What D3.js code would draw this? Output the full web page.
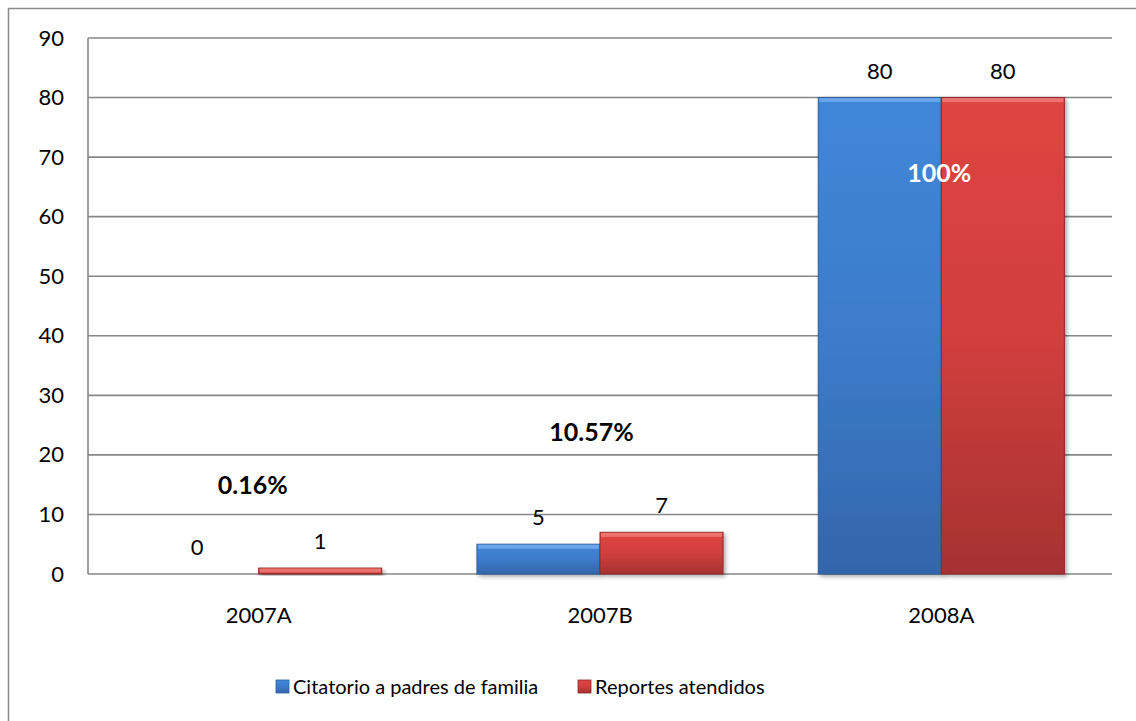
<!DOCTYPE html>
<html>
<head>
<meta charset="utf-8">
<script src="https://cdn.jsdelivr.net/npm/d3@7"></script>
<style>
  body { margin: 0; background: #fff; }
  text { font-family: Lato, "Open Sans", sans-serif; fill: #000; }
</style>
</head>
<body>
<div id="chart"></div>
<script>
// data
var categories = ["2007A", "2007B", "2008A"];
var seriesNames = ["Citatorio a padres de familia", "Reportes atendidos"];
var citatorio = [0, 5, 80];
var reportes = [1, 7, 80];
var percentLabels = ["0.16%", "10.57%", "100%"];
var percentAt = [13.5, 22.3, 65.8];   // value where the % label baseline sits
var percentShift = [-6, -8.5, -2];
var yTicks = [0, 10, 20, 30, 40, 50, 60, 70, 80, 90];

var W = 1136, H = 721;
var margin = { top: 38, right: 24, bottom: 147, left: 88 },
    width = W - margin.left - margin.right,
    height = H - margin.top - margin.bottom;

var svg = d3.select("#chart").append("svg")
    .attr("width", W).attr("height", H);

// outer frame (runs off the right/bottom edge)
svg.append("rect")
    .attr("x", 8.5).attr("y", 8.5)
    .attr("width", 1200).attr("height", 800)
    .attr("fill", "none").attr("stroke", "#8a8a8a").attr("stroke-width", 1.5);

var defs = svg.append("defs");
function grad(id, c1, c2, c3) {
    var g = defs.append("linearGradient").attr("id", id)
        .attr("x1", 0).attr("y1", 0).attr("x2", 0).attr("y2", 1);
    g.append("stop").attr("offset", "0%").attr("stop-color", c1);
    g.append("stop").attr("offset", "50%").attr("stop-color", c2);
    g.append("stop").attr("offset", "100%").attr("stop-color", c3);
}
grad("gBlue", "#4187d8", "#3c7ccb", "#3366aa");
grad("gRed", "#de4542", "#d13f3d", "#a53230");
var shadow = defs.append("filter").attr("id", "sh")
    .attr("x", "-10%").attr("y", "-10%").attr("width", "130%").attr("height", "130%");
shadow.append("feGaussianBlur").attr("in", "SourceAlpha").attr("stdDeviation", 2);
shadow.append("feOffset").attr("dx", 2).attr("dy", 2).attr("result", "b");
shadow.append("feComponentTransfer").append("feFuncA").attr("type", "linear").attr("slope", 0.35);
var fm = shadow.append("feMerge");
fm.append("feMergeNode");
fm.append("feMergeNode").attr("in", "SourceGraphic");

var g = svg.append("g")
    .attr("transform", "translate(" + margin.left + "," + margin.top + ")");

var x0 = d3.scaleBand().domain(categories).range([0, width])
    .paddingInner(0.279).paddingOuter(0.1395);
var x1 = d3.scaleBand().domain([0, 1]).range([0, x0.bandwidth()]);
var y = d3.scaleLinear().domain([0, 90]).range([height, 0]);

// gridlines
g.append("g").selectAll("line").data(yTicks).enter().append("line")
    .attr("x1", 0).attr("x2", width)
    .attr("y1", function(d) { return y(d); }).attr("y2", function(d) { return y(d); })
    .attr("stroke", "#878787").attr("stroke-width", 1.6);
g.append("line").attr("x1", 0).attr("x2", 0).attr("y1", 0).attr("y2", height)
    .attr("stroke", "#878787").attr("stroke-width", 1.6);

// y axis labels
var yAxis = g.append("g").call(d3.axisLeft(y).tickValues(yTicks).tickSize(0).tickPadding(24));
yAxis.select(".domain").remove();
yAxis.selectAll("text").style("font-size", "22px").attr("fill", "#000")
    .style("font-family", "Lato, sans-serif");

// x axis labels
var xAxis = g.append("g").attr("transform", "translate(0," + height + ")")
    .call(d3.axisBottom(x0).tickSize(0).tickPadding(33));
xAxis.select(".domain").remove();
xAxis.selectAll("text").style("font-size", "22px").attr("fill", "#000")
    .style("font-family", "Lato, sans-serif");

var rows = categories.map(function(c, i) {
    return { cat: c, vals: [citatorio[i], reportes[i]] };
});
var fills = ["url(#gBlue)", "url(#gRed)"];
var edge = ["#2d5e9c", "#8f2a28"];
var hi = ["#6aa6ec", "#ee7370"];

var grp = g.selectAll(".grp").data(rows).enter().append("g")
    .attr("transform", function(d) { return "translate(" + x0(d.cat) + ",0)"; });

var bars = grp.selectAll(".bar").data(function(d) {
    return d.vals.map(function(v, k) { return { k: k, v: v }; });
}).enter().filter(function(d) { return d.v > 0; }).append("g").attr("filter", "url(#sh)");

bars.append("rect")
    .attr("x", function(d) { return x1(d.k); })
    .attr("y", function(d) { return y(d.v); })
    .attr("width", x1.bandwidth())
    .attr("height", function(d) { return y(0) - y(d.v); })
    .attr("fill", function(d) { return fills[d.k]; })
    .attr("stroke", function(d) { return edge[d.k]; }).attr("stroke-width", 1);
// top bevel highlight
bars.append("rect")
    .attr("x", function(d) { return x1(d.k) + 1; })
    .attr("y", function(d) { return y(d.v) + 0.5; })
    .attr("width", x1.bandwidth() - 2)
    .attr("height", function(d) { return Math.min(4, y(0) - y(d.v) - 1); })
    .attr("fill", function(d) { return hi[d.k]; });

// value labels
grp.selectAll(".val").data(function(d) {
    return d.vals.map(function(v, k) { return { k: k, v: v }; });
}).enter().append("text")
    .attr("x", function(d) { return x1(d.k) + x1.bandwidth() / 2; })
    .attr("y", function(d) { return y(d.v) - 19; })
    .attr("text-anchor", "middle")
    .style("font-size", "22px")
    .text(function(d) { return d.v; });

// percentage labels
g.selectAll(".pct").data(percentLabels).enter().append("text")
    .attr("x", function(d, i) { return x0(categories[i]) + x0.bandwidth() / 2 + percentShift[i]; })
    .attr("y", function(d, i) { return y(percentAt[i]); })
    .attr("text-anchor", "middle")
    .style("font-size", "25px").style("font-weight", "bold")
    .style("fill", function(d, i) { return i == 2 ? "#fff" : "#000"; })
    .text(function(d) { return d; });

// legend
var legend = svg.append("g").attr("transform", "translate(276,680)");
var lx = [0, 302];
seriesNames.forEach(function(name, k) {
    var item = legend.append("g").attr("transform", "translate(" + lx[k] + ",0)");
    item.append("rect").attr("width", 13).attr("height", 13)
        .attr("fill", fills[k]).attr("stroke", edge[k]).attr("stroke-width", 0.8);
    item.append("text").attr("x", 17).attr("y", 14)
        .style("font-size", "20px").text(name);
});
</script>
</body>
</html>
